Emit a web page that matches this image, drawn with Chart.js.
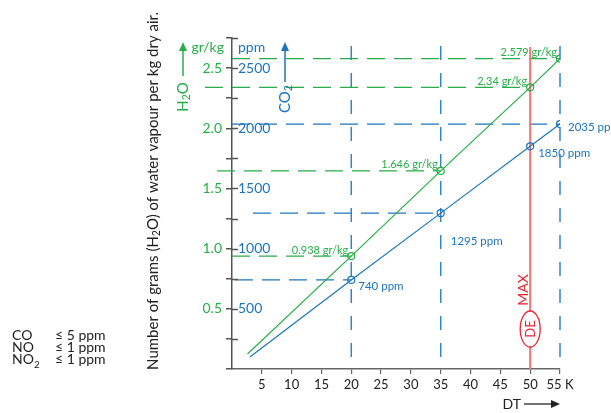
<!DOCTYPE html>
<html>
<head>
<meta charset="utf-8">
<script src="https://cdn.jsdelivr.net/npm/chart.js@4.4.1/dist/chart.umd.min.js"></script>
<style>
  body { margin: 0; background: #fff; }
  #wrap { width: 611px; height: 413px; }
</style>
</head>
<body>
<div id="wrap"><canvas id="chart"></canvas></div>
<script>
// values
const dtPoints = [20, 35, 50, 55];
const h2oValues = [0.938, 1.646, 2.34, 2.579];
const h2oLabels = ['0.938 gr/kg', '1.646 gr/kg', '2,34 gr/kg', '2.579 gr/kg'];
const co2Values = [740, 1295, 1850, 2035];
const co2Labels = ['740 ppm', '1295 ppm', '1850 ppm', '2035 ppm'];
const h2oStart = { x: 2.6, y: 0.125 };
const co2Start = { x: 3, y: 100 };
const h2oTicks = [0.5, 1.0, 1.5, 2.0, 2.5];
const co2Ticks = [500, 1000, 1500, 2000, 2500];
const dtTicks = [5, 10, 15, 20, 25, 30, 35, 40, 45, 50, 55];
const co2Guides = [740, 1295, 2035];
const dtGuides = [20, 35, 55];
const dtMax = 50;
const gasNames = ['CO', 'NO', 'NO'];
const gasLimits = ['≤ 5 ppm', '≤ 1 ppm', '≤ 1 ppm'];

const GREEN = '#27ad48';
const BLUE = '#1c75bc';
const RED = '#e8262e';
const FONT = 'Lato, "Open Sans", sans-serif';

Chart.defaults.font.family = FONT;

const h2oData = [h2oStart].concat(dtPoints.map((x, i) => ({ x: x, y: h2oValues[i] })));
const co2Data = [co2Start].concat(dtPoints.map((x, i) => ({ x: x, y: co2Values[i] })));

function drawRich(ctx, parts, x, y, size, align) {
  // parts: [text, isSubscript]
  const widths = parts.map(p => {
    ctx.font = (p[1] ? size * 0.7 : size) + 'px ' + FONT;
    return ctx.measureText(p[0]).width;
  });
  const total = widths.reduce((a, b) => a + b, 0);
  let cx = align === 'center' ? x - total / 2 : align === 'right' ? x - total : x;
  ctx.textAlign = 'left';
  parts.forEach((p, i) => {
    ctx.font = (p[1] ? size * 0.7 : size) + 'px ' + FONT;
    ctx.fillText(p[0], cx, p[1] ? y + size * 0.25 : y);
    cx += widths[i];
  });
}

function hDash(ctx, x0, x1, y, color) {
  ctx.save();
  ctx.strokeStyle = color;
  ctx.lineWidth = 1.3;
  ctx.setLineDash([18, 9]);
  ctx.beginPath();
  ctx.moveTo(x0, y);
  ctx.lineTo(x1, y);
  ctx.stroke();
  ctx.restore();
}

const guidesPlugin = {
  id: 'guides',
  beforeDatasetsDraw(chart) {
    const { ctx, chartArea, scales } = chart;
    const x = scales.x, y = scales.y, y2 = scales.y2;
    const greenLead = [0, -15, -27, 0];
    dtPoints.forEach((dt, i) => {
      hDash(ctx, chartArea.left + greenLead[i], x.getPixelForValue(dt), y.getPixelForValue(h2oValues[i]), GREEN);
    });
    const blueLead = [3, 21, 0];
    co2Guides.forEach((v, i) => {
      const dt = dtPoints[co2Values.indexOf(v)];
      hDash(ctx, chartArea.left + blueLead[i], x.getPixelForValue(dt), y2.getPixelForValue(v), BLUE);
    });
    ctx.save();
    ctx.strokeStyle = '#3584c6';
    ctx.lineWidth = 1.5;
    ctx.setLineDash([14, 13]);
    dtGuides.forEach(dt => {
      const px = x.getPixelForValue(dt);
      ctx.beginPath();
      ctx.moveTo(px, chartArea.top + 8);
      ctx.lineTo(px, chartArea.bottom);
      ctx.stroke();
    });
    ctx.restore();
    // red max line
    const rx = x.getPixelForValue(dtMax);
    ctx.save();
    ctx.strokeStyle = '#ef7474';
    ctx.lineWidth = 2;
    ctx.beginPath();
    ctx.moveTo(rx, chartArea.top + 9);
    ctx.lineTo(rx, chartArea.bottom);
    ctx.stroke();
    ctx.restore();
  },
  afterDraw(chart) {
    const { ctx, chartArea, scales } = chart;
    const x = scales.x, y = scales.y, y2 = scales.y2;
    const left = chartArea.left;
    ctx.save();
    // right half of the axis ticks
    ctx.strokeStyle = '#555';
    ctx.lineWidth = 1.5;
    for (let v = 0.25; v <= 2.751; v += 0.25) {
      const py = Math.round(y.getPixelForValue(v)) + 0.5;
      ctx.beginPath();
      ctx.moveTo(left, py);
      ctx.lineTo(left + 6, py);
      ctx.stroke();
    }
    // point labels
    ctx.textBaseline = 'middle';
    ctx.font = '11px ' + FONT;
    ctx.fillStyle = GREEN;
    ctx.textAlign = 'right';
    dtPoints.forEach((dt, i) => {
      ctx.fillText(h2oLabels[i], x.getPixelForValue(dt) - 3, y.getPixelForValue(h2oValues[i]) - 6);
    });
    const blueOff = [[7, 6], [10, 28], [8, 7], [8, 3]];
    ctx.font = '11.5px ' + FONT;
    ctx.fillStyle = BLUE;
    ctx.textAlign = 'left';
    dtPoints.forEach((dt, i) => {
      ctx.fillText(co2Labels[i], x.getPixelForValue(dt) + blueOff[i][0], y2.getPixelForValue(co2Values[i]) + blueOff[i][1]);
    });
    // units
    ctx.font = '14px ' + FONT;
    ctx.fillStyle = GREEN;
    ctx.textAlign = 'right';
    ctx.fillText('gr/kg', left - 8, chartArea.top + 9);
    ctx.fillStyle = BLUE;
    ctx.textAlign = 'left';
    ctx.fillText('ppm', left + 6, chartArea.top + 9);
    // arrows with H2O / CO2
    function upArrow(ax, y0, y1, color) {
      ctx.strokeStyle = color;
      ctx.fillStyle = color;
      ctx.lineWidth = 1.5;
      ctx.beginPath();
      ctx.moveTo(ax, y1);
      ctx.lineTo(ax, y0 + 6);
      ctx.stroke();
      ctx.beginPath();
      ctx.moveTo(ax, y0);
      ctx.lineTo(ax - 4, y0 + 9);
      ctx.lineTo(ax + 4, y0 + 9);
      ctx.closePath();
      ctx.fill();
    }
    upArrow(183, 42, 76, GREEN);
    upArrow(285, 42, 82, BLUE);
    ctx.textBaseline = 'middle';
    ctx.save();
    ctx.translate(183, 97);
    ctx.rotate(-Math.PI / 2);
    ctx.fillStyle = GREEN;
    drawRich(ctx, [['H', 0], ['2', 1], ['O', 0]], 0, 0, 15, 'center');
    ctx.restore();
    ctx.save();
    ctx.translate(285, 99);
    ctx.rotate(-Math.PI / 2);
    ctx.fillStyle = BLUE;
    drawRich(ctx, [['CO', 0], ['2', 1]], 0, 0, 15, 'center');
    ctx.restore();
    // axis title
    ctx.save();
    ctx.translate(153, 191);
    ctx.rotate(-Math.PI / 2);
    ctx.fillStyle = '#222';
    drawRich(ctx, [['Number of grams (H', 0], ['2', 1], ['O) of water vapour per kg dry air.', 0]], 0, 0, 15, 'center');
    ctx.restore();
    // MAX and DE
    const rx = x.getPixelForValue(dtMax);
    ctx.save();
    ctx.translate(rx - 7, 290);
    ctx.rotate(-Math.PI / 2);
    ctx.fillStyle = RED;
    ctx.font = '14px ' + FONT;
    ctx.textAlign = 'center';
    ctx.fillText('MAX', 0, 0);
    ctx.restore();
    ctx.save();
    ctx.beginPath();
    ctx.ellipse(rx, 329, 10, 18, 0, 0, Math.PI * 2);
    ctx.fillStyle = '#fff';
    ctx.fill();
    ctx.strokeStyle = RED;
    ctx.lineWidth = 1.3;
    ctx.stroke();
    ctx.translate(rx + 1, 329);
    ctx.rotate(-Math.PI / 2);
    ctx.fillStyle = RED;
    ctx.font = '13px ' + FONT;
    ctx.textAlign = 'center';
    ctx.fillText('DE', 0, 0);
    ctx.restore();
    // DT arrow
    ctx.fillStyle = '#222';
    ctx.font = '14px ' + FONT;
    ctx.textAlign = 'right';
    ctx.fillText('DT', 521, 404);
    ctx.strokeStyle = '#222';
    ctx.lineWidth = 1.3;
    ctx.beginPath();
    ctx.moveTo(524, 404);
    ctx.lineTo(553, 404);
    ctx.stroke();
    ctx.beginPath();
    ctx.moveTo(560, 404);
    ctx.lineTo(551, 400);
    ctx.lineTo(551, 408);
    ctx.closePath();
    ctx.fill();
    // gas limits
    ctx.textBaseline = 'alphabetic';
    gasNames.forEach((g, i) => {
      const by = 340 + i * 12;
      ctx.fillStyle = '#222';
      drawRich(ctx, i === 2 ? [[g, 0], ['2', 1]] : [[g, 0]], 12, by, 14, 'left');
      ctx.font = '14px ' + FONT;
      ctx.textAlign = 'left';
      ctx.fillText(gasLimits[i], 55, by);
    });
    ctx.restore();
  }
};

new Chart(document.getElementById('chart'), {
  type: 'line',
  data: {
    datasets: [
      {
        data: h2oData,
        yAxisID: 'y',
        borderColor: GREEN,
        borderWidth: 1.2,
        pointRadius: [0, 3.5, 3.5, 3.5, 3.5],
        pointBorderColor: GREEN,
        pointBackgroundColor: 'rgba(0,0,0,0)',
        pointBorderWidth: 1.2,
        tension: 0
      },
      {
        data: co2Data,
        yAxisID: 'y2',
        borderColor: BLUE,
        borderWidth: 1.2,
        pointRadius: [0, 3.5, 3.5, 3.5, 3.5],
        pointBorderColor: BLUE,
        pointBackgroundColor: 'rgba(0,0,0,0)',
        pointBorderWidth: 1.2,
        tension: 0
      }
    ]
  },
  options: {
    responsive: true,
    maintainAspectRatio: false,
    animation: false,
    layout: { padding: { top: 38, right: 51, left: 0, bottom: 0 } },
    plugins: { legend: { display: false }, tooltip: { enabled: false } },
    scales: {
      x: {
        type: 'linear',
        min: 0,
        max: 55,
        afterFit(s) { s.height = 44; },
        afterBuildTicks(s) { s.ticks = dtTicks.map(v => ({ value: v })); },
        border: { color: '#666', width: 1.5 },
        grid: { drawOnChartArea: false, tickLength: 5, color: '#666', lineWidth: 1.2 },
        ticks: {
          padding: 3,
          color: '#222',
          font: { size: 13 },
          maxRotation: 0,
          autoSkip: false,
          callback: v => v === 55 ? '55 K' : String(v)
        }
      },
      y: {
        position: 'left',
        weight: 1,
        min: 0,
        max: 2.75,
        afterFit(s) { s.width = 232; },
        border: { color: '#555', width: 1.5 },
        grid: { drawOnChartArea: false, tickLength: 6, color: '#555', lineWidth: 1.5 },
        ticks: {
          stepSize: 0.25,
          padding: 4,
          color: GREEN,
          font: { size: 14 },
          callback: v => h2oTicks.some(t => Math.abs(t - v) < 1e-6) ? v.toFixed(1) : ''
        }
      },
      y2: {
        position: 'left',
        weight: 0,
        min: 0,
        max: 2750,
        afterFit(s) { s.width = 0; },
        afterBuildTicks(s) { s.ticks = co2Ticks.map(v => ({ value: v })); },
        border: { display: false },
        grid: { display: false },
        ticks: {
          mirror: true,
          padding: 6,
          color: BLUE,
          font: { size: 14 },
          callback: v => String(v)
        }
      }
    }
  },
  plugins: [guidesPlugin]
});
</script>
</body>
</html>
